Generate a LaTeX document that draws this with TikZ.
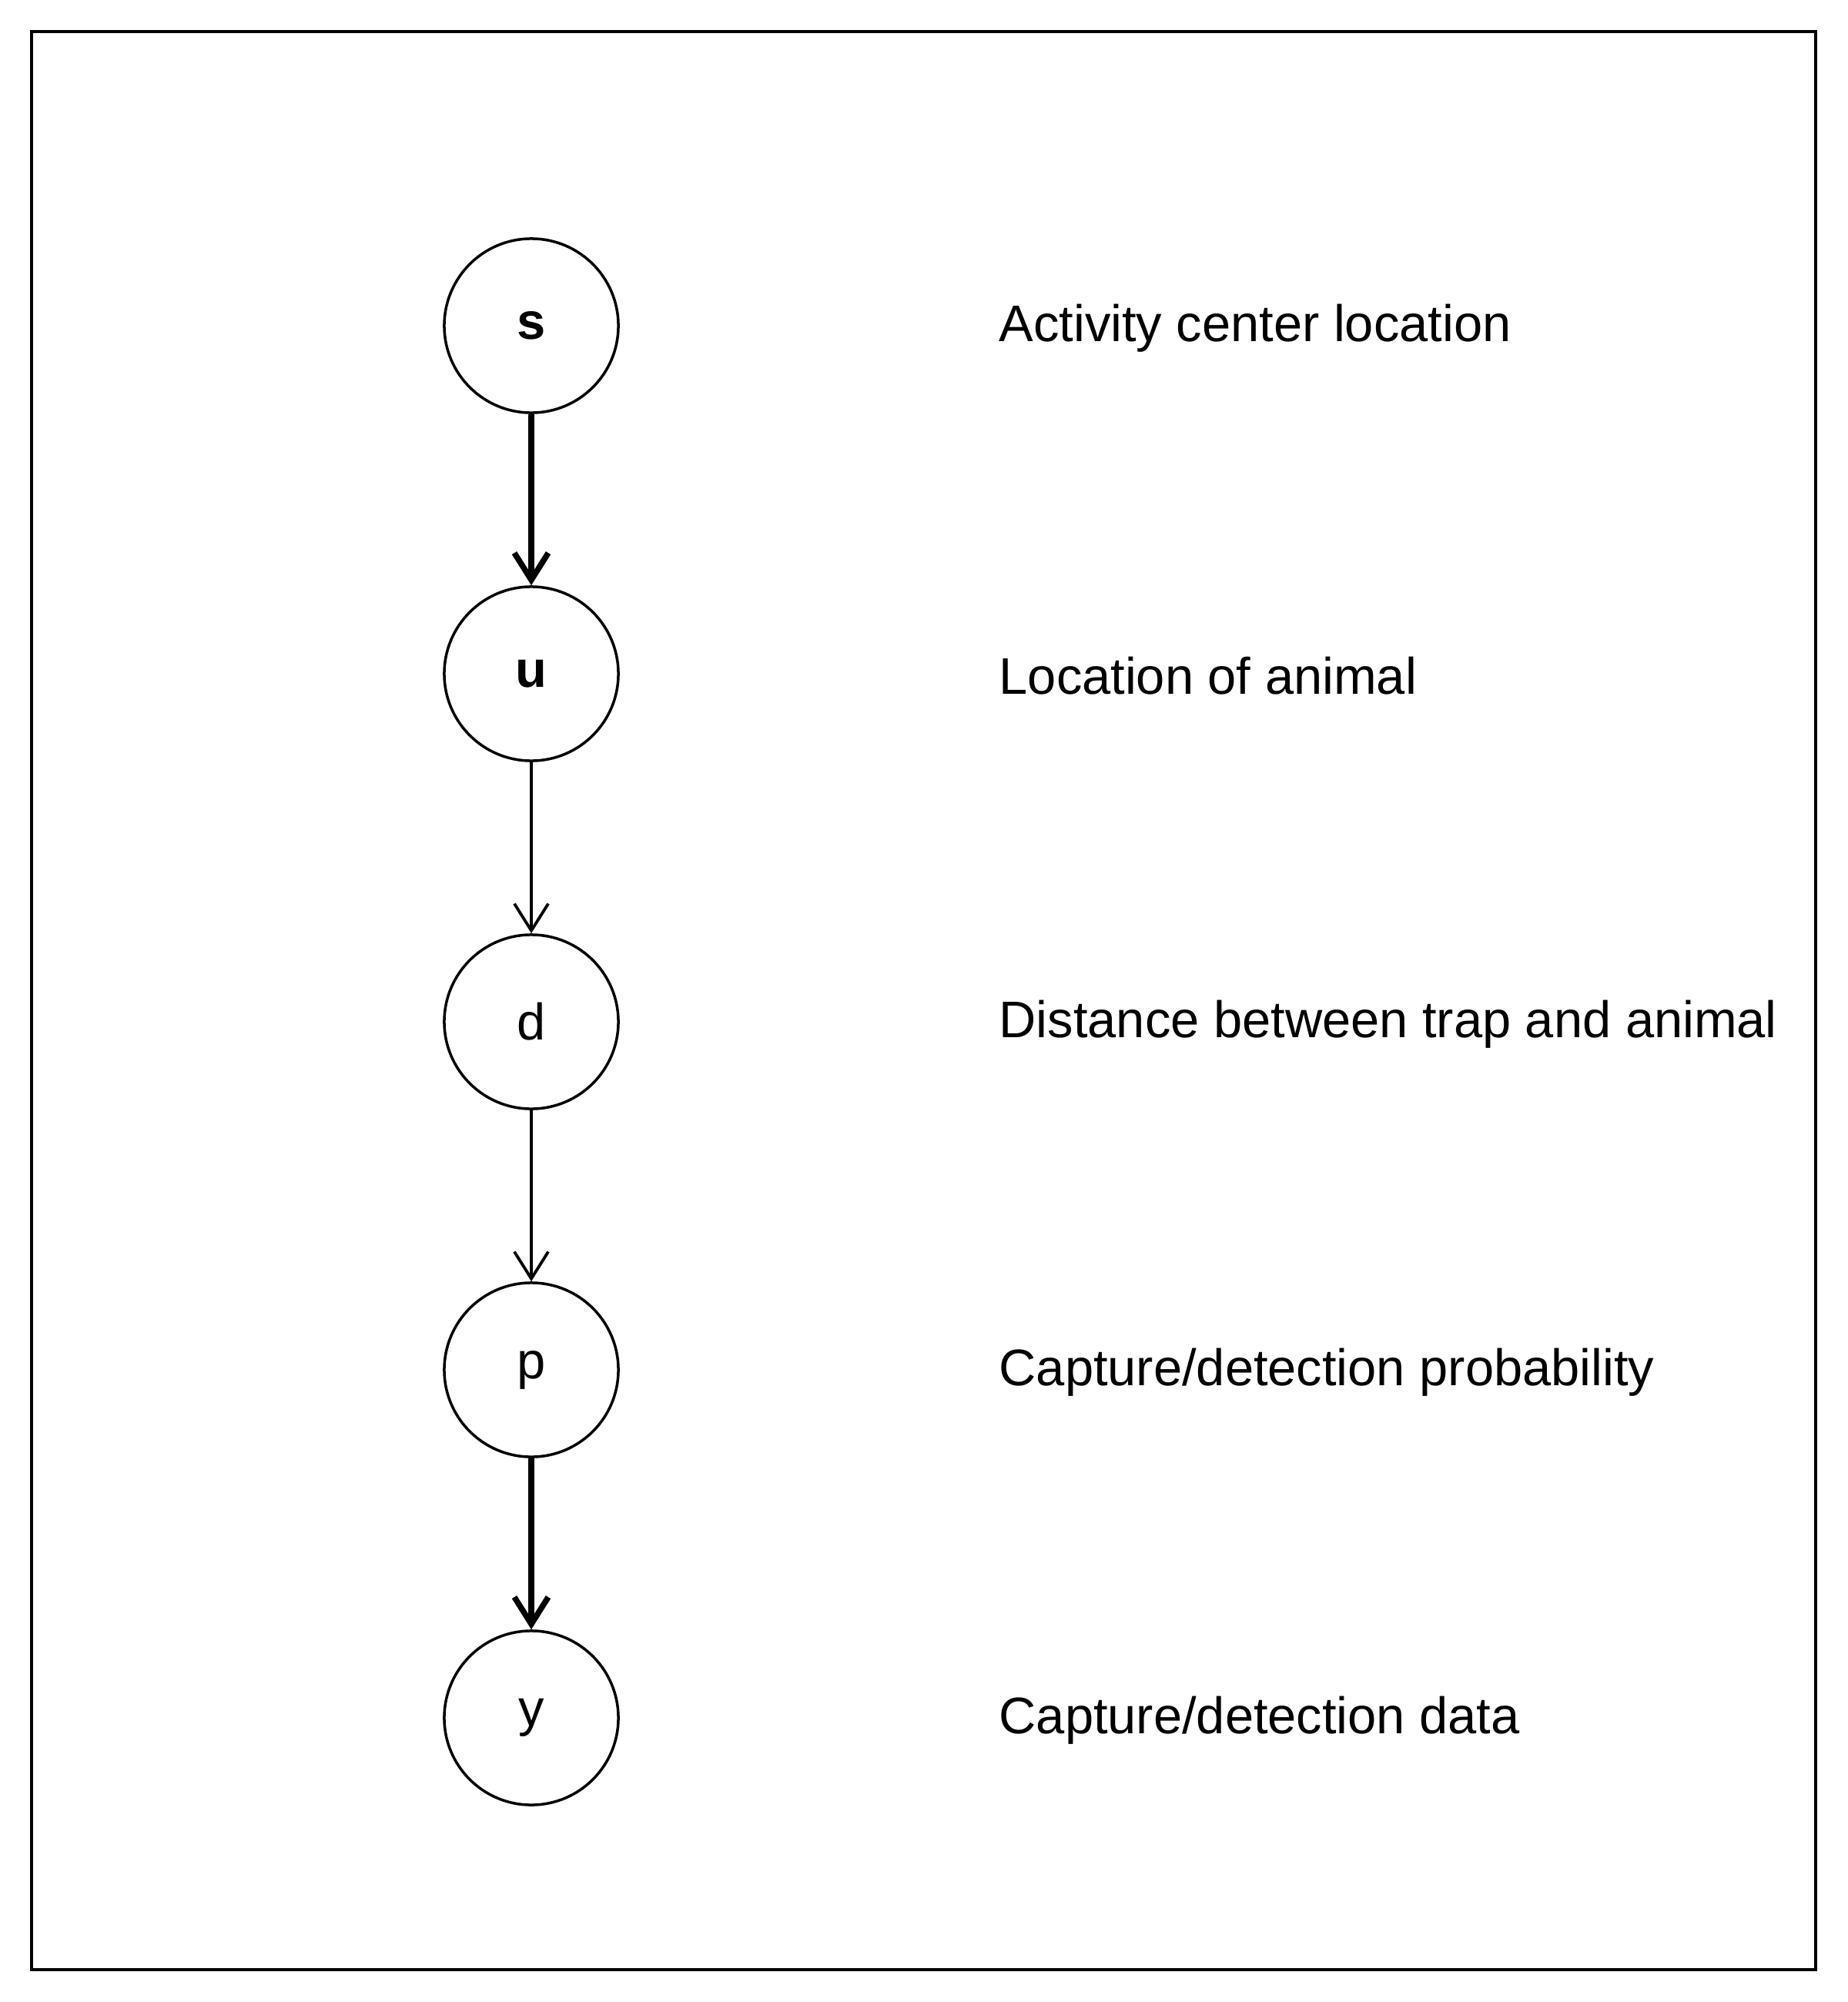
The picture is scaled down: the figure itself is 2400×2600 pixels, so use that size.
\documentclass[tikz,border=0pt]{standalone}
\usepackage{fontspec}
\setmainfont{Liberation Sans}
\usetikzlibrary{arrows.meta}
\begin{document}
\begin{tikzpicture}[x=0.01cm,y=-0.01cm,
  var/.style={circle,draw,line width=0.035cm,inner sep=0pt,minimum size=2.26cm,font=\fontsize{19pt}{23pt}\selectfont},
  lab/.style={anchor=west,inner sep=0pt,font=\fontsize{19pt}{23pt}\selectfont},
  thickarr/.style={line width=0.075cm,-{Straight Barb[length=0.35cm,width=0.44cm]}},
  thinarr/.style={line width=0.038cm,-{Straight Barb[length=0.35cm,width=0.44cm]}},
  frame/.style={draw,line width=0.045cm}]
\useasboundingbox (0,0) rectangle (2400,2600);
\fill[white] (0,0) rectangle (2400,2600);
\draw[frame] (41,41) rectangle (2358,2558);
\node[var] (s) at (690,423) {\raisebox{-0.03cm}{\bfseries s}};
\node[var] (u) at (690,875) {\raisebox{-0.03cm}{\bfseries u}};
\node[var] (d) at (690,1327) {\raisebox{-0.03cm}{d}};
\node[var] (p) at (690,1779) {\raisebox{-0.03cm}{p}};
\node[var] (y) at (690,2231) {\raisebox{-0.03cm}{y}};
\node[lab] (ls) at (1297,426) {Activity center location};
\node[lab] (lu) at (1297,878) {Location of animal};
\node[lab] (ld) at (1297,1330) {Distance between trap and animal};
\node[lab] (lp) at (1297,1782) {Capture/detection probability};
\node[lab] (ly) at (1297,2234) {Capture/detection data};
\draw[thickarr] (s) -- (u);
\draw[thinarr] (u) -- (d);
\draw[thinarr] (d) -- (p);
\draw[thickarr] (p) -- (y);
\end{tikzpicture}
\end{document}
